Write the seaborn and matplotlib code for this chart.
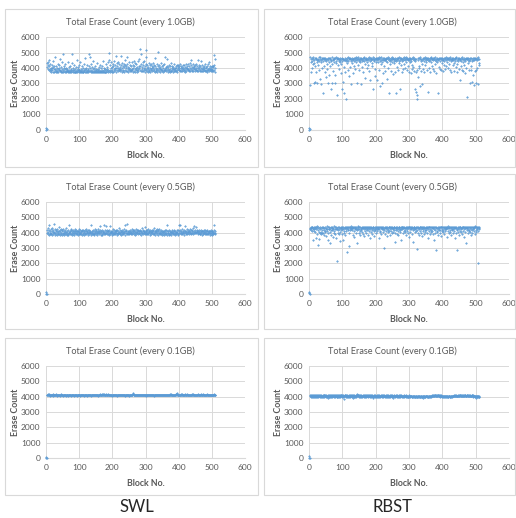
import numpy as np
import pandas as pd
import matplotlib
matplotlib.use("Agg")
import matplotlib.pyplot as plt
from matplotlib.patches import Rectangle
import seaborn as sns

# Erase counts per block, in units of 10 erases (block 0..511)
swl_1_0 = [
0, 13, 5, 405, 432, 418, 440, 396, 385, 410, 452, 378, 392, 425, 388, 401,
375, 398, 420, 384, 372, 408, 446, 391, 377, 415, 383, 470, 396, 374, 389, 412,
380, 402, 376, 428, 393, 371, 386, 419, 397, 378, 460, 388, 374, 405, 381, 392,
436, 377, 490, 385, 372, 399, 414, 380, 375, 391, 423, 383, 373, 402, 387, 379,
395, 376, 441, 382, 371, 407, 389, 374, 416, 380, 392, 373, 385, 430, 378, 488,
384, 375, 398, 371, 421, 386, 377, 394, 372, 409, 381, 375, 450, 388, 373, 396,
379, 404, 386, 372, 418, 390, 376, 383, 439, 374, 395, 381, 371, 412, 387, 377,
398, 373, 426, 384, 379, 392, 375, 462, 388, 372, 403, 380, 376, 417, 391, 374,
385, 410, 378, 490, 473, 382, 397, 375, 428, 386, 372, 405, 379, 393, 374, 444,
381, 376, 400, 388, 372, 415, 383, 377, 395, 371, 434, 386, 375, 391, 379, 406,
373, 387, 420, 376, 382, 372, 398, 378, 411, 374, 389, 372, 447, 380, 385, 375,
403, 377, 392, 371, 426, 384, 376, 409, 379, 395, 373, 438, 386, 499, 452, 381,
390, 417, 375, 399, 383, 436, 372, 406, 388, 429, 377, 412, 394, 446, 380, 401,
420, 385, 478, 397, 376, 431, 389, 413, 379, 402, 441, 384, 424, 395, 378, 408,
392, 479, 386, 418, 375, 433, 399, 381, 410, 390, 427, 377, 404, 452, 388, 419,
383, 397, 414, 473, 380, 425, 394, 376, 408, 437, 386, 401, 378, 421, 392, 384,
411, 379, 436, 396, 387, 419, 375, 403, 448, 382, 414, 393, 377, 431, 400, 385,
423, 389, 407, 376, 442, 395, 381, 416, 399, 461, 386, 523, 411, 378, 428, 490,
394, 405, 383, 437, 380, 418, 399, 386, 445, 376, 412, 392, 429, 384, 468, 515,
401, 382, 422, 395, 377, 409, 388, 434, 380, 417, 373, 402, 391, 426, 384, 413,
378, 398, 432, 386, 408, 381, 419, 395, 374, 411, 467, 389, 403, 380, 425, 391,
377, 414, 386, 505, 399, 381, 421, 392, 408, 375, 388, 430, 396, 379, 412, 385,
402, 376, 418, 390, 380, 427, 473, 394, 384, 409, 378, 397, 461, 386, 415, 377,
392, 405, 381, 422, 388, 375, 410, 396, 383, 434, 379, 400, 387, 414, 376, 391,
408, 382, 396, 423, 378, 402, 389, 412, 381, 397, 417, 386, 376, 405, 392, 420,
384, 411, 398, 379, 426, 390, 402, 383, 415, 395, 378, 409, 422, 388, 400, 381,
418, 393, 376, 407, 386, 424, 399, 380, 412, 391, 403, 384, 427, 396, 378, 414,
389, 432, 401, 383, 420, 394, 452, 379, 408, 386, 425, 398, 382, 413, 391, 404,
378, 417, 395, 384, 429, 400, 387, 411, 380, 453, 397, 383, 419, 392, 406, 381,
414, 389, 398, 445, 383, 421, 395, 380, 409, 392, 378, 416, 387, 402, 382, 427,
390, 405, 381, 398, 412, 386, 376, 423, 394, 384, 401, 379, 438, 388, 396, 411,
382, 405, 391, 378, 415, 387, 396, 412, 380, 408, 420, 385, 481, 455, 398, 373,
]

rbst_1_0 = [
0, 15, 8, 468, 290, 455, 372, 441, 463, 398, 447, 426, 470, 459, 305, 452,
433, 462, 308, 415, 457, 374, 466, 449, 305, 438, 461, 452, 420, 468, 386, 445,
458, 331, 470, 450, 296, 437, 462, 455, 398, 466, 240, 448, 412, 459, 464, 376,
451, 467, 343, 444, 461, 425, 458, 393, 305, 463, 449, 437, 358, 466, 456, 411,
462, 262, 453, 445, 469, 301, 428, 460, 452, 382, 467, 441, 458, 300, 466, 354,
447, 471, 432, 459, 227, 463, 418, 455, 466, 448, 392, 460, 438, 464, 452, 366,
458, 423, 265, 467, 443, 456, 312, 461, 236, 450, 409, 465, 453, 376, 460, 446,
197, 463, 431, 454, 388, 468, 447, 459, 347, 462, 405, 455, 466, 442, 297, 459,
451, 465, 433, 461, 369, 456, 448, 467, 414, 453, 462, 394, 458, 470, 436, 449,
302, 464, 455, 421, 468, 447, 461, 386, 452, 466, 439, 459, 296, 463, 448, 409,
457, 466, 372, 451, 462, 443, 469, 427, 455, 338, 461, 449, 467, 402, 458, 440,
463, 417, 452, 468, 379, 456, 444, 463, 325, 459, 450, 466, 431, 455, 411, 461,
470, 264, 453, 448, 466, 395, 459, 350, 462, 441, 457, 467, 322, 451, 463, 436,
455, 469, 388, 460, 446, 285, 464, 454, 424, 468, 305, 458, 441, 462, 368, 452,
466, 449, 412, 461, 453, 378, 467, 444, 459, 331, 463, 438, 456, 469, 398, 451,
240, 462, 447, 458, 425, 465, 452, 382, 468, 441, 460, 360, 455, 463, 433, 448,
461, 373, 466, 453, 236, 459, 445, 467, 408, 452, 462, 388, 457, 469, 431, 446,
266, 463, 451, 418, 467, 456, 376, 460, 442, 465, 394, 453, 468, 428, 459, 449,
462, 403, 455, 470, 437, 461, 384, 466, 450, 458, 412, 464, 377, 452, 467, 441,
456, 369, 461, 448, 422, 465, 391, 455, 469, 405, 453, 381, 462, 263, 446, 459,
373, 456, 244, 388, 225, 197, 467, 345, 452, 398, 463, 416, 286, 455, 468, 379,
445, 461, 298, 453, 427, 466, 392, 459, 448, 464, 371, 456, 470, 418, 452, 465,
436, 460, 385, 467, 451, 242, 462, 447, 402, 458, 466, 374, 453, 463, 439, 468,
455, 414, 461, 449, 395, 467, 458, 380, 464, 452, 426, 469, 446, 460, 367, 455,
463, 441, 458, 240, 452, 467, 409, 461, 448, 396, 465, 457, 385, 463, 450, 432,
467, 454, 378, 460, 445, 419, 466, 457, 391, 462, 450, 468, 413, 456, 464, 437,
459, 403, 465, 451, 428, 463, 389, 457, 470, 442, 455, 376, 466, 449, 461, 418,
453, 467, 434, 459, 381, 464, 447, 456, 405, 462, 468, 427, 451, 372, 460, 465,
446, 458, 393, 466, 452, 324, 461, 447, 415, 463, 455, 386, 469, 440, 458, 379,
464, 452, 419, 460, 448, 366, 467, 456, 401, 210, 455, 462, 432, 450, 467, 389,
458, 445, 463, 301, 453, 411, 466, 384, 459, 448, 308, 462, 357, 454, 467, 290,
449, 463, 378, 458, 305, 461, 387, 466, 452, 399, 460, 296, 468, 418, 455, 430,
]

swl_0_5 = [
0, 10, 3, 398, 415, 392, 428, 403, 387, 419, 447, 396, 410, 389, 425, 401,
393, 412, 386, 430, 405, 391, 418, 399, 456, 407, 388, 421, 396, 411, 390, 416,
402, 385, 424, 397, 413, 389, 408, 435, 394, 419, 387, 404, 392, 426, 398, 411,
388, 415, 401, 393, 422, 386, 409, 396, 417, 390, 403, 428, 391, 406, 385, 413,
399, 392, 420, 387, 407, 451, 395, 414, 389, 402, 418, 393, 425, 400, 386, 411,
404, 391, 416, 397, 409, 388, 421, 399, 412, 394, 405, 419, 390, 408, 396, 414,
387, 410, 401, 423, 393, 406, 389, 417, 398, 411, 392, 403, 415, 386, 409, 396,
420, 391, 405, 413, 388, 400, 418, 394, 409, 390, 426, 397, 412, 402, 385, 416,
398, 407, 391, 419, 403, 395, 411, 387, 452, 400, 414, 392, 406, 389, 418, 401,
394, 413, 386, 404, 421, 397, 409, 390, 416, 399, 405, 388, 412, 395, 425, 402,
408, 391, 417, 398, 441, 388, 410, 403, 394, 419, 387, 406, 400, 413, 392, 447,
405, 396, 415, 389, 409, 444, 398, 420, 391, 403, 412, 394, 408, 386, 417, 399,
402, 445, 393, 411, 397, 406, 388, 414, 400, 424, 392, 407, 395, 418, 389, 410,
403, 391, 416, 398, 409, 387, 420, 396, 412, 401, 393, 429, 399, 405, 390, 415,
396, 410, 402, 388, 417, 394, 406, 399, 413, 391, 422, 403, 397, 408, 386, 450,
411, 395, 419, 401, 390, 455, 404, 392, 414, 398, 409, 389, 417, 400, 406, 393,
412, 397, 421, 403, 391, 415, 400, 408, 394, 418, 405, 388, 411, 399, 424, 402,
393, 416, 406, 398, 420, 390, 410, 401, 414, 396, 408, 392, 419, 404, 387, 412,
400, 428, 395, 409, 391, 417, 403, 413, 397, 438, 389, 407, 418, 394, 411, 401,
405, 390, 415, 399, 422, 393, 408, 402, 412, 388, 419, 396, 406, 414, 391, 403,
417, 397, 409, 392, 420, 401, 430, 394, 412, 388, 405, 415, 398, 410, 390, 421,
403, 408, 386, 416, 396, 425, 400, 389, 411, 397, 419, 392, 407, 385, 414, 399,
402, 390, 413, 396, 408, 387, 418, 394, 405, 391, 415, 400, 448, 388, 409, 396,
412, 399, 385, 418, 393, 406, 390, 414, 398, 402, 387, 411, 395, 420, 389, 404,
397, 410, 392, 416, 401, 388, 413, 395, 407, 390, 419, 399, 404, 386, 415, 393,
452, 400, 411, 453, 395, 417, 403, 389, 409, 398, 425, 392, 414, 401, 406, 388,
418, 396, 410, 402, 446, 393, 413, 399, 407, 391, 421, 404, 397, 415, 390, 409,
411, 398, 424, 405, 392, 416, 401, 419, 396, 410, 403, 428, 394, 412, 400, 443,
407, 399, 417, 404, 438, 395, 413, 402, 420, 397, 409, 391, 415, 401, 406, 393,
412, 390, 405, 418, 395, 409, 388, 414, 400, 411, 393, 420, 397, 406, 391, 416,
402, 389, 412, 396, 408, 393, 417, 399, 405, 390, 414, 398, 409, 387, 411, 395,
404, 392, 416, 399, 410, 388, 413, 397, 407, 391, 418, 400, 452, 395, 409, 390,
]

rbst_0_5 = [
5, 12, 0, 432, 425, 438, 418, 429, 436, 411, 440, 422, 350, 431, 437, 413,
426, 439, 404, 433, 365, 421, 436, 392, 428, 441, 322, 434, 419, 361, 430, 407,
437, 398, 424, 402, 431, 393, 439, 415, 396, 428, 400, 435, 388, 420, 429, 412,
438, 406, 425, 379, 433, 441, 409, 427, 355, 436, 396, 421, 424, 434, 403, 330,
429, 439, 383, 418, 431, 415, 437, 371, 425, 432, 410, 441, 397, 427, 435, 391,
423, 438, 365, 430, 213, 427, 401, 435, 419, 391, 438, 423, 345, 432, 405, 429,
437, 415, 390, 426, 434, 351, 421, 439, 408, 433, 396, 428, 436, 383, 425, 440,
412, 431, 438, 276, 420, 434, 427, 398, 437, 310, 429, 415, 436, 424, 441, 430,
433, 418, 439, 386, 428, 435, 410, 440, 371, 431, 423, 437, 395, 426, 438, 416,
430, 335, 436, 421, 441, 399, 427, 434, 412, 439, 385, 425, 432, 418, 437, 404,
428, 440, 393, 433, 422, 436, 376, 429, 438, 411, 424, 435, 399, 431, 440, 417,
426, 437, 387, 432, 414, 440, 423, 363, 435, 428, 406, 438, 419, 430, 392, 436,
425, 439, 410, 433, 381, 427, 437, 415, 430, 440, 396, 424, 434, 408, 438, 421,
432, 368, 436, 427, 413, 439, 402, 429, 435, 389, 431, 422, 437, 407, 426, 440,
298, 430, 416, 436, 394, 428, 439, 411, 433, 380, 425, 437, 402, 431, 420, 438,
409, 434, 427, 440, 386, 429, 436, 414, 432, 395, 438, 423, 430, 406, 437, 418,
436, 401, 429, 338, 433, 419, 440, 392, 427, 437, 412, 431, 384, 435, 425, 439,
416, 432, 405, 438, 426, 353, 434, 421, 439, 397, 430, 436, 413, 428, 440, 403,
433, 419, 437, 387, 431, 425, 440, 410, 436, 400, 429, 438, 373, 434, 422, 439,
407, 433, 426, 440, 394, 431, 437, 415, 428, 341, 436, 421, 439, 404, 432, 427,
436, 409, 430, 291, 438, 417, 433, 396, 440, 423, 428, 385, 437, 412, 434, 425,
439, 401, 431, 436, 378, 427, 440, 414, 433, 391, 438, 420, 429, 405, 437, 432,
416, 438, 398, 430, 434, 421, 365, 439, 408, 435, 427, 389, 436, 419, 440, 403,
428, 437, 411, 432, 394, 439, 424, 353, 434, 417, 437, 400, 430, 289, 438, 412,
432, 406, 436, 423, 387, 439, 415, 430, 397, 437, 420, 434, 381, 440, 409, 426,
435, 418, 438, 402, 431, 440, 392, 427, 436, 410, 433, 424, 439, 371, 429, 437,
413, 432, 441, 395, 428, 436, 405, 439, 420, 431, 384, 437, 416, 434, 426, 400,
438, 423, 430, 411, 437, 363, 429, 436, 399, 433, 440, 417, 427, 290, 435, 407,
431, 439, 388, 426, 435, 413, 438, 402, 432, 421, 437, 393, 429, 440, 410, 434,
424, 437, 375, 431, 439, 406, 428, 436, 331, 433, 418, 440, 398, 427, 435, 412,
436, 420, 439, 403, 432, 427, 386, 438, 415, 434, 397, 440, 425, 431, 409, 437,
428, 441, 391, 435, 418, 439, 405, 433, 426, 440, 412, 437, 203, 430, 421, 438,
]

swl_0_1 = [
0, 8, 2, 412, 409, 415, 411, 408, 413, 410, 416, 409, 412, 407, 414, 411,
409, 413, 410, 408, 415, 411, 406, 412, 409, 414, 410, 408, 413, 411, 409, 415,
410, 407, 412, 414, 409, 411, 408, 413, 410, 406, 412, 409, 415, 411, 408, 410,
413, 409, 411, 407, 412, 410, 414, 408, 411, 409, 413, 406, 410, 412, 408, 411,
409, 412, 407, 411, 410, 413, 408, 409, 412, 410, 407, 414, 409, 411, 408, 412,
410, 408, 413, 409, 411, 407, 410, 412, 408, 411, 409, 413, 410, 406, 412, 409,
411, 409, 408, 412, 410, 414, 409, 411, 407, 410, 412, 408, 411, 409, 413, 410,
408, 411, 410, 407, 412, 409, 411, 408, 413, 410, 409, 412, 407, 411, 410, 408,
412, 409, 411, 410, 408, 413, 410, 409, 411, 407, 412, 410, 408, 414, 409, 411,
410, 412, 408, 411, 409, 410, 413, 408, 410, 412, 409, 411, 407, 410, 412, 409,
411, 408, 410, 413, 416, 411, 414, 409, 418, 412, 410, 413, 420, 411, 415, 409,
412, 410, 414, 411, 409, 416, 412, 410, 413, 409, 411, 415, 410, 412, 408, 411,
410, 413, 409, 411, 408, 412, 410, 407, 411, 409, 412, 410, 408, 411, 413, 409,
411, 408, 410, 412, 409, 411, 407, 410, 413, 409, 411, 408, 412, 410, 409, 411,
409, 412, 410, 408, 411, 409, 413, 410, 412, 408, 411, 409, 410, 412, 407, 411,
410, 409, 412, 411, 408, 410, 413, 409, 411, 407, 410, 412, 409, 411, 410, 408,
412, 409, 411, 408, 410, 418, 424, 416, 412, 409, 411, 408, 410, 412, 409, 411,
408, 411, 410, 412, 409, 411, 408, 410, 413, 409, 411, 410, 408, 412, 410, 409,
411, 409, 412, 410, 408, 411, 409, 413, 410, 408, 411, 409, 412, 410, 407, 411,
409, 412, 410, 408, 411, 410, 409, 412, 408, 411, 410, 413, 409, 411, 408, 410,
412, 410, 408, 411, 409, 412, 410, 407, 411, 409, 412, 410, 408, 411, 410, 409,
410, 408, 411, 409, 412, 410, 409, 411, 408, 413, 410, 409, 411, 408, 412, 410,
409, 411, 410, 408, 412, 409, 411, 410, 408, 411, 409, 412, 410, 409, 411, 408,
411, 409, 412, 410, 408, 411, 414, 417, 415, 412, 410, 413, 409, 411, 410, 412,
409, 411, 410, 413, 408, 412, 410, 415, 411, 419, 426, 417, 411, 413, 409, 412,
410, 414, 411, 409, 413, 410, 416, 412, 409, 414, 411, 418, 410, 413, 411, 409,
412, 410, 415, 411, 409, 413, 410, 408, 412, 416, 411, 409, 414, 410, 412, 411,
409, 413, 411, 410, 414, 408, 412, 411, 417, 410, 413, 409, 415, 411, 410, 412,
411, 409, 413, 410, 412, 408, 414, 411, 409, 413, 410, 416, 412, 409, 411, 414,
410, 412, 409, 415, 411, 410, 413, 409, 412, 418, 411, 410, 414, 409, 412, 411,
413, 410, 412, 409, 415, 411, 410, 413, 408, 412, 411, 414, 410, 409, 413, 411,
410, 412, 409, 414, 411, 408, 413, 410, 412, 409, 415, 411, 410, 413, 409, 412,
]

rbst_0_1 = [
3, 10, 0, 405, 410, 402, 408, 398, 412, 404, 400, 409, 396, 406, 411, 403,
399, 407, 413, 401, 405, 395, 410, 403, 408, 400, 412, 397, 406, 402, 409, 404,
411, 398, 404, 407, 401, 413, 399, 406, 403, 410, 396, 405, 408, 400, 412, 402,
405, 409, 397, 403, 411, 400, 407, 404, 393, 410, 402, 406, 399, 413, 404, 408,
401, 406, 410, 398, 404, 412, 396, 407, 403, 409, 400, 405, 411, 397, 408, 402,
410, 403, 407, 399, 413, 401, 405, 409, 396, 406, 412, 400, 404, 408, 398, 411,
404, 408, 400, 406, 411, 397, 414, 403, 407, 385, 402, 409, 405, 412, 399, 406,
408, 401, 405, 410, 397, 406, 403, 413, 400, 407, 404, 396, 410, 402, 408, 405,
403, 411, 399, 406, 409, 392, 404, 401, 412, 398, 407, 405, 410, 400, 406, 413,
415, 402, 408, 404, 411, 399, 406, 413, 401, 409, 403, 397, 407, 410, 404, 400,
406, 409, 402, 405, 412, 398, 407, 403, 410, 400, 404, 408, 395, 406, 411, 402,
409, 404, 401, 407, 403, 410, 397, 405, 408, 402, 411, 399, 406, 404, 409, 401,
405, 391, 408, 403, 406, 400, 410, 404, 398, 407, 402, 409, 405, 401, 408, 396,
404, 407, 400, 409, 403, 406, 399, 411, 402, 405, 408, 397, 404, 410, 401, 406,
402, 408, 405, 399, 407, 403, 410, 401, 406, 396, 404, 409, 400, 405, 408, 403,
407, 401, 404, 409, 398, 406, 402, 408, 404, 400, 410, 403, 406, 392, 405, 409,
403, 406, 400, 405, 409, 402, 407, 399, 404, 408, 401, 406, 403, 410, 397, 405,
400, 408, 404, 402, 406, 409, 398, 405, 403, 407, 400, 404, 409, 401, 406, 402,
406, 402, 409, 400, 404, 398, 407, 403, 401, 406, 395, 404, 400, 408, 402, 405,
398, 405, 402, 407, 400, 403, 397, 406, 401, 404, 399, 407, 402, 396, 405, 401,
404, 399, 406, 401, 403, 397, 405, 400, 402, 406, 398, 403, 401, 405, 399, 404,
401, 405, 398, 403, 400, 406, 402, 389, 404, 399, 403, 401, 405, 398, 402, 406,
403, 400, 405, 402, 398, 404, 401, 406, 399, 403, 405, 400, 402, 404, 398, 403,
406, 402, 409, 404, 410, 403, 407, 412, 405, 409, 402, 408, 404, 411, 403, 407,
409, 405, 411, 403, 408, 406, 412, 402, 407, 410, 398, 405, 409, 403, 406, 401,
404, 400, 407, 402, 405, 399, 403, 406, 401, 404, 398, 405, 402, 400, 406, 403,
401, 405, 399, 403, 406, 402, 400, 404, 398, 403, 405, 401, 404, 399, 402, 406,
403, 406, 404, 408, 402, 407, 405, 409, 403, 406, 410, 404, 407, 402, 408, 405,
407, 403, 409, 405, 410, 404, 408, 402, 406, 411, 405, 409, 403, 407, 404, 410,
405, 409, 403, 408, 406, 411, 404, 407, 402, 409, 405, 408, 404, 406, 410, 403,
408, 404, 406, 402, 409, 405, 407, 403, 410, 404, 408, 401, 406, 409, 403, 405,
404, 407, 401, 405, 393, 406, 402, 404, 400, 405, 403, 398, 404, 401, 405, 396,
]

panel_titles = ["Total Erase Count (every 1.0GB)", "Total Erase Count (every 1.0GB)",
                "Total Erase Count (every 0.5GB)", "Total Erase Count (every 0.5GB)",
                "Total Erase Count (every 0.1GB)", "Total Erase Count (every 0.1GB)"]
column_labels = ["SWL", "RBST"]
x_ticks = [0, 100, 200, 300, 400, 500, 600]
y_ticks = [0, 1000, 2000, 3000, 4000, 5000, 6000]
x_label = "Block No."
y_label = "Erase Count"

series = [swl_1_0, rbst_1_0, swl_0_5, rbst_0_5, swl_0_1, rbst_0_1]

sns.set_theme(style="white")
plt.rcParams['font.family'] = ['Lato', 'DejaVu Sans']

W, H = 516, 518
fig = plt.figure(figsize=(W / 100, H / 100), dpi=100)
fig.patch.set_facecolor("white")

def fx(px):
    return px / W

def fy(py):
    return 1 - py / H

col_plot = [(46, 245), (309, 509)]
row_plot = [(37, 130), (202, 294), (366, 458)]
col_box = [(5, 258), (264, 515)]
row_box = [(9, 167), (174, 329), (338, 495)]
title_x = [130, 392]
title_y = [22, 187, 351]

grey_txt = "#595959"
grid_c = "#d9d9d9"
dot_c = "#5b9bd5"

for i, vals in enumerate(series):
    r, c = divmod(i, 2)
    bx0, bx1 = col_box[c]
    by0, by1 = row_box[r]
    fig.patches.append(Rectangle((fx(bx0), fy(by1)), fx(bx1 - bx0), (by1 - by0) / H,
                                 transform=fig.transFigure, fill=False,
                                 edgecolor="#d9d9d9", linewidth=0.8))
    x0, x1 = col_plot[c]
    y0, y1 = row_plot[r]
    ax = fig.add_axes([fx(x0), fy(y1), fx(x1 - x0), (y1 - y0) / H])
    df = pd.DataFrame({"block": np.arange(len(vals)), "count": np.array(vals) * 10})
    sns.scatterplot(data=df, x="block", y="count", ax=ax, color=dot_c, s=2.0,
                    marker="D", linewidth=0, alpha=0.85, clip_on=False, zorder=3)
    ax.set_xlim(0, 600)
    ax.set_ylim(0, 6000)
    ax.set_xticks(x_ticks)
    ax.set_yticks(y_ticks)
    ax.set_xticklabels([str(t) for t in x_ticks])
    ax.set_yticklabels([str(t) for t in y_ticks])
    ax.grid(True, color=grid_c, linewidth=0.7)
    ax.set_axisbelow(True)
    for s in ["top", "right", "left"]:
        ax.spines[s].set_visible(False)
    ax.spines["bottom"].set_color(grid_c)
    ax.spines["bottom"].set_linewidth(0.8)
    ax.tick_params(axis="both", length=0, labelsize=6, colors=grey_txt, pad=4)
    ax.set_xlabel(x_label, fontsize=6.3, fontweight="bold", color=grey_txt, labelpad=6)
    ax.set_ylabel(y_label, fontsize=6.3, fontweight="bold", color=grey_txt, labelpad=1)
    fig.text(fx(title_x[c]), fy(title_y[r]), panel_titles[i], ha="center", va="center",
             fontsize=6.6, color=grey_txt)

for c, lab in enumerate(column_labels):
    fig.text(fx([137, 392][c]), fy(507), lab, ha="center", va="center",
             fontsize=12, color="#262626")

fig.savefig("out.png", dpi=100, facecolor="white")
